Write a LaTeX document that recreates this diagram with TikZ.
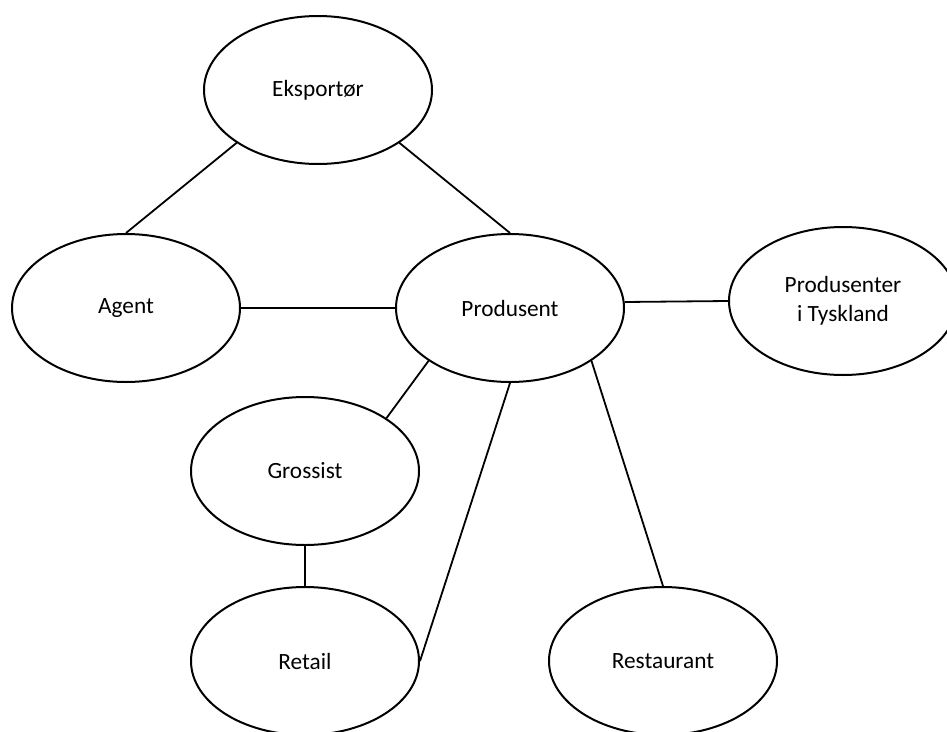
\documentclass[tikz,border=0pt]{standalone}
\usepackage{fontspec}
\setmainfont{Carlito}
\usetikzlibrary{shapes.geometric}

\begin{document}
\begin{tikzpicture}[
  every node/.style={font=\fontsize{23.3}{29}\selectfont},
  actor/.style={ellipse, draw, line width=2pt, fill=white,
    minimum width=228pt, minimum height=148pt, inner sep=0pt, align=center},
  link/.style={line width=1.8pt}]

  %% page
  \useasboundingbox (0pt,0pt) rectangle (947pt,-731pt);
  \clip (0pt,0pt) rectangle (947pt,-731pt);

  %% actors
  \node[actor] (eks)    at (318pt,-90pt)  {Eksportør};
  \node[actor] (agent)  at (126pt,-308pt) {Agent};
  \node[actor] (prod)   at (510pt,-308pt) {Produsent};
  \node[actor] (tysk)   at (843pt,-301pt) {Produsenter\\i Tyskland};
  \node[actor] (gross)  at (305pt,-471pt) {Grossist};
  \node[actor] (retail) at (305pt,-661pt) {Retail};
  \node[actor] (rest)   at (663pt,-661pt) {Restaurant};

  %% links
  \draw[link] (eks.213) -- (agent.north);
  \draw[link] (eks.327) -- (prod.north);
  \draw[link] (agent.east) -- (prod.west);
  \draw[link] (prod.3) -- (tysk.west);
  \draw[link] (prod.213) -- (gross.33);
  \draw[link] (gross.south) -- (retail.north);
  \draw[link] (prod.south) -- (retail.east);
  \draw[link] (prod.327) -- (rest.north);

\end{tikzpicture}
\end{document}
